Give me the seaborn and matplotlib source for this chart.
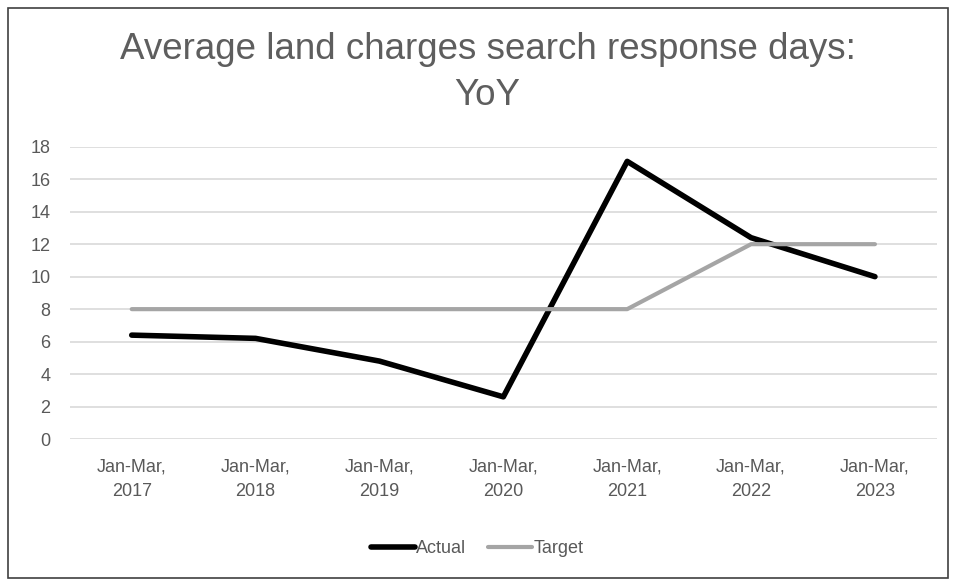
import pandas as pd
import matplotlib.pyplot as plt
import seaborn as sns
from matplotlib.patches import Rectangle

# data
periods = ["Jan-Mar,\n2017", "Jan-Mar,\n2018", "Jan-Mar,\n2019", "Jan-Mar,\n2020",
           "Jan-Mar,\n2021", "Jan-Mar,\n2022", "Jan-Mar,\n2023"]
actual = [6.4, 6.2, 4.8, 2.6, 17.1, 12.4, 10.0]
target = [8, 8, 8, 8, 8, 12, 12]
y_ticks = [0, 2, 4, 6, 8, 10, 12, 14, 16, 18]

df = pd.DataFrame({
    "Period": periods * 2,
    "Days": actual + target,
    "Series": ["Actual"] * len(periods) + ["Target"] * len(periods),
})

sns.set_style("white")
plt.rcParams['font.family'] = ['Liberation Sans', 'DejaVu Sans']

fig = plt.figure(figsize=(9.56, 5.8), dpi=100)
ax = fig.add_axes([0.073, 0.243, 0.907, 0.504])

sns.lineplot(data=df, x="Period", y="Days", hue="Series", size="Series",
             palette={"Actual": "#000000", "Target": "#A5A5A5"},
             sizes={"Actual": 4.0, "Target": 3.0},
             sort=False, ax=ax, legend=True, solid_capstyle="round")

ax.set_ylim(0, 18)
ax.set_xlim(-0.5, len(periods) - 0.5)
ax.set_yticks(y_ticks)
ax.set_yticklabels([str(t) for t in y_ticks])
ax.yaxis.grid(True, color="#D9D9D9", linewidth=1.2)
ax.set_axisbelow(True)
for s in ax.spines.values():
    s.set_visible(False)
ax.tick_params(axis="y", length=0, labelsize=13, colors="#595959", pad=14)
ax.tick_params(axis="x", length=0, labelsize=13, colors="#595959", pad=14)
for lab in ax.get_xticklabels():
    lab.set_linespacing(1.6)
ax.set_xlabel("")
ax.set_ylabel("")

# legend under the plot
handles, labels = ax.get_legend_handles_labels()
for h in handles:
    h.set_solid_capstyle("round")
ax.legend(handles=handles, labels=labels, loc="center", bbox_to_anchor=(0.47, -0.375),
          ncol=2, frameon=False, fontsize=13, labelcolor="#595959",
          handlelength=2.4, handletextpad=0.1, columnspacing=1.2)

fig.text(0.51, 0.875, "Average land charges search response days:\nYoY",
         ha="center", va="center", fontsize=26.5, color="#5E5E5E", linespacing=1.4)

# outer border
fig.patches.append(Rectangle((0.008, 0.004), 0.984, 0.982, transform=fig.transFigure,
                             fill=False, edgecolor="#404040", linewidth=1.2))

plt.savefig("out.png", dpi=100)
